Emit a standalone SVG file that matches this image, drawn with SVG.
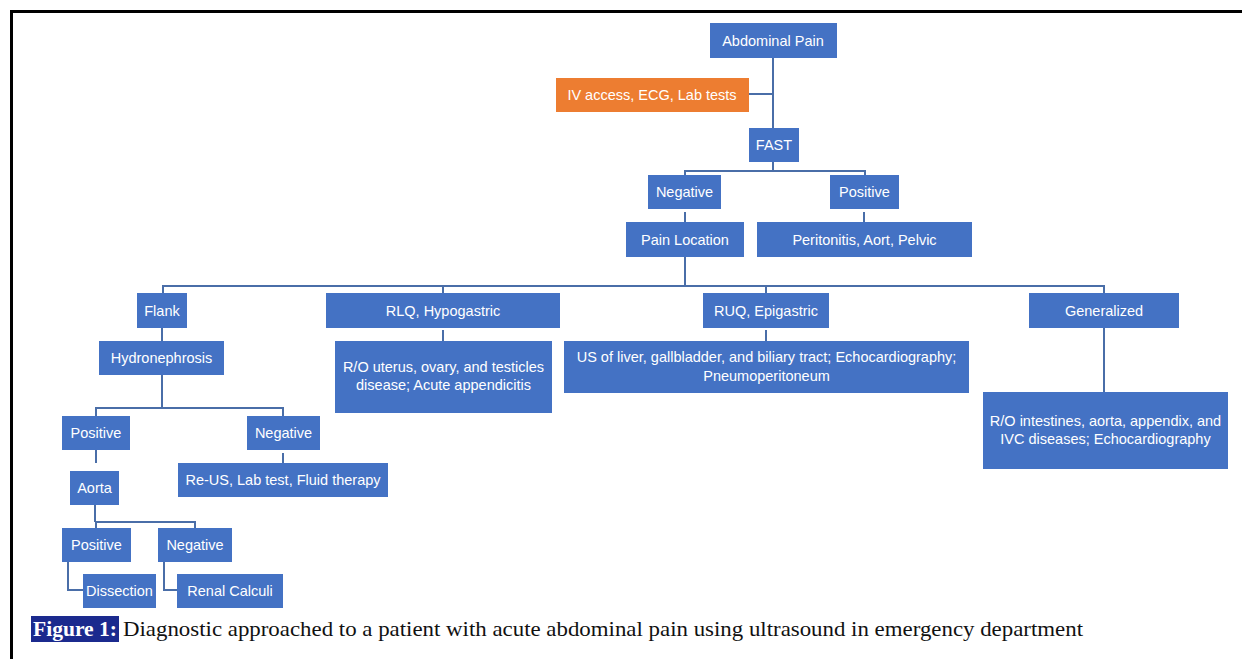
<svg xmlns="http://www.w3.org/2000/svg" width="1242" height="659" viewBox="0 0 1242 659">
<style>
.b{fill:#4472C4}
.o{fill:#ED7D31}
.t{fill:#fff;font-family:"Liberation Sans",Arial,sans-serif;font-size:14.5px;text-anchor:middle}
.c{fill:none;stroke:#4a6ea8;stroke-width:2}
.cap{font-family:"Liberation Serif","Times New Roman",serif;font-size:21px}
</style>
<rect width="1242" height="659" fill="#fff"/>
<path d="M11.5 659 V11.5 H1242" fill="none" stroke="#000" stroke-width="3"/>
<g id="connectors" class="c">
<path d="M773 58 V128 M749 94 H773"/>
<path d="M773 162 V171 M685 175 V171 H865 V175"/>
<path d="M685 212 V222 M864 212 V222"/>
<path d="M685 257 V286 M163 293 V286 H1104 V293 M443 286 V293 M766 286 V293"/>
<path d="M162 328 V341 M443 330 V341 M766 330 V341 M1104 328 V392"/>
<path d="M162 375 V408 M96 416 V408 H283 V416"/>
<path d="M96 450 V463 M283 453 V463"/>
<path d="M95 505 V522 M96 528 V522 H195 V528"/>
<path d="M68 562 V590 H83 M164 562 V590 H177"/>
</g>
<g id="abdominal-pain"><rect class="b" x="710" y="23" width="127" height="35"/><text class="t" x="773" y="46">Abdominal Pain</text></g>
<g id="iv-access"><rect class="o" x="556" y="78" width="193" height="34"/><text class="t" x="652" y="100">IV access, ECG, Lab tests</text></g>
<g id="fast"><rect class="b" x="749" y="128" width="50" height="34"/><text class="t" x="774" y="150">FAST</text></g>
<g id="negative"><rect class="b" x="648" y="175" width="73" height="34"/><text class="t" x="684.5" y="197">Negative</text></g>
<g id="positive"><rect class="b" x="830" y="175" width="69" height="34"/><text class="t" x="864.5" y="197">Positive</text></g>
<g id="pain-location"><rect class="b" x="626" y="222" width="118" height="35"/><text class="t" x="685" y="245">Pain Location</text></g>
<g id="peritonitis"><rect class="b" x="757" y="222" width="215" height="35"/><text class="t" x="864.5" y="245">Peritonitis, Aort, Pelvic</text></g>
<g id="flank"><rect class="b" x="137" y="293" width="50" height="35"/><text class="t" x="162" y="316">Flank</text></g>
<g id="rlq"><rect class="b" x="326" y="293" width="234" height="35"/><text class="t" x="443" y="316">RLQ, Hypogastric</text></g>
<g id="ruq"><rect class="b" x="703" y="293" width="126" height="35"/><text class="t" x="766" y="316">RUQ, Epigastric</text></g>
<g id="generalized"><rect class="b" x="1029" y="293" width="150" height="35"/><text class="t" x="1104" y="316">Generalized</text></g>
<g id="rlq-detail"><rect class="b" x="335" y="341" width="217" height="72"/><text class="t" x="443.5" y="372">R/O uterus, ovary, and testicles</text><text class="t" x="443.5" y="390">disease; Acute appendicitis</text></g>
<g id="ruq-detail"><rect class="b" x="564" y="341" width="405" height="52"/><text class="t" x="766.5" y="362">US of liver, gallbladder, and biliary tract; Echocardiography;</text><text class="t" x="766.5" y="381">Pneumoperitoneum</text></g>
<g id="gen-detail"><rect class="b" x="983" y="392" width="245" height="77"/><text class="t" x="1105.5" y="426">R/O intestines, aorta, appendix, and</text><text class="t" x="1105.5" y="444">IVC diseases; Echocardiography</text></g>
<g id="hydronephrosis"><rect class="b" x="99" y="341" width="125" height="34"/><text class="t" x="161.5" y="363">Hydronephrosis</text></g>
<g id="h-positive"><rect class="b" x="62" y="416" width="68" height="34"/><text class="t" x="96" y="438">Positive</text></g>
<g id="h-negative"><rect class="b" x="247" y="416" width="73" height="34"/><text class="t" x="283.5" y="438">Negative</text></g>
<g id="aorta"><rect class="b" x="70" y="471" width="49" height="34"/><text class="t" x="94.5" y="493">Aorta</text></g>
<g id="re-us"><rect class="b" x="178" y="463" width="210" height="34"/><text class="t" x="283" y="485">Re-US, Lab test, Fluid therapy</text></g>
<g id="a-positive"><rect class="b" x="62" y="528" width="69" height="34"/><text class="t" x="96.5" y="550">Positive</text></g>
<g id="a-negative"><rect class="b" x="158" y="528" width="74" height="34"/><text class="t" x="195" y="550">Negative</text></g>
<g id="dissection"><rect class="b" x="83" y="574" width="73" height="34"/><text class="t" x="119.5" y="596">Dissection</text></g>
<g id="renal"><rect class="b" x="177" y="574" width="106" height="34"/><text class="t" x="230" y="596">Renal Calculi</text></g>
<g id="caption">
<rect x="31" y="616" width="88" height="26" fill="#1b2a8e"/>
<text class="cap" x="33" y="636" fill="#fff" font-weight="bold" textLength="84" lengthAdjust="spacingAndGlyphs">Figure 1:</text>
<text class="cap" x="123" y="636" fill="#111" textLength="960" lengthAdjust="spacingAndGlyphs">Diagnostic approached to a patient with acute abdominal pain using ultrasound in emergency department</text>
</g>
</svg>
